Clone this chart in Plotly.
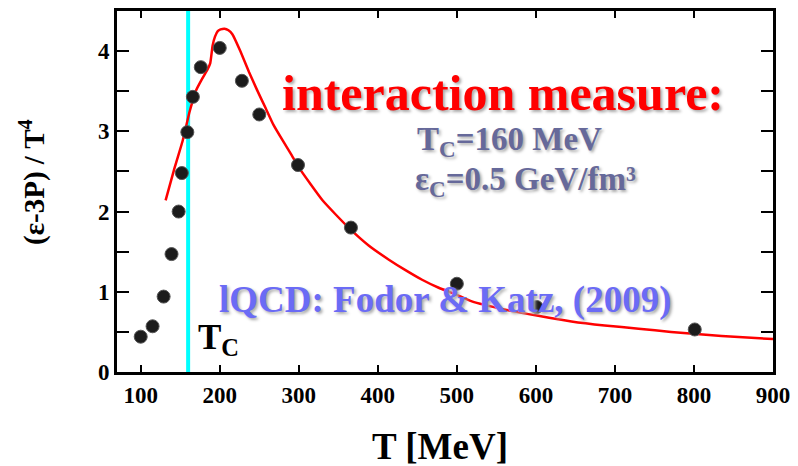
import plotly.graph_objects as go

# Lattice QCD data points (black spheres)
T_data = [100, 115, 129, 139, 148, 152, 159, 166, 176, 200, 228, 250, 299, 366, 500, 601, 801]
I_data = [0.44, 0.57, 0.94, 1.47, 2.00, 2.48, 2.99, 3.43, 3.80, 4.04, 3.63, 3.21, 2.58, 1.80, 1.10, 0.81, 0.53]

# Red curve
T_curve = [131.5, 143, 153, 162, 170, 178, 185, 188, 191, 194, 197.5, 201, 206, 211, 216, 226, 237, 247, 258, 268,
           280, 290, 300, 315, 330, 347, 364, 388, 414, 435, 456, 477, 498, 519, 560, 603, 645, 687, 730, 771, 835, 900]
I_curve = [2.14, 2.55, 2.88, 3.25, 3.51, 3.66, 3.78, 3.85, 4.07, 4.18, 4.25, 4.27, 4.28, 4.26, 4.21, 4.00, 3.74, 3.52, 3.29, 3.08,
           2.88, 2.72, 2.55, 2.34, 2.14, 1.96, 1.79, 1.58, 1.40, 1.27, 1.15, 1.05, 0.97, 0.88, 0.78, 0.70, 0.63, 0.58, 0.54, 0.50, 0.45, 0.41]

T_c = 160
x_ticks = [100, 200, 300, 400, 500, 600, 700, 800, 900]
y_ticks = [0, 1, 2, 3, 4]

SERIF = "Liberation Serif"

fig = go.Figure()

fig.add_trace(go.Scatter(
    x=[T_c, T_c], y=[0, 4.5], mode="lines",
    line=dict(color="#00ffff", width=4), showlegend=False, hoverinfo="skip"))

fig.add_trace(go.Scatter(
    x=T_curve, y=I_curve, mode="lines",
    line=dict(color="#ff0000", width=2.5, shape="spline", smoothing=0.4),
    showlegend=False))

fig.add_trace(go.Scatter(
    x=T_data, y=I_data, mode="markers",
    marker=dict(color="#1c1c1c", size=13, line=dict(color="#555555", width=1)),
    showlegend=False))

axis_common = dict(
    showline=True, linecolor="black", linewidth=3, mirror="ticks",
    ticks="inside", tickcolor="black", tickwidth=2,
    showgrid=False, zeroline=False,
    tickfont=dict(family=SERIF, size=23, color="black", weight="bold"),
)

fig.update_xaxes(range=[70, 900], tickvals=x_ticks, ticklen=7, **axis_common)
fig.update_yaxes(range=[0, 4.5], tickvals=y_ticks, ticklen=12,
                 minor=dict(dtick=0.5, ticks="inside", ticklen=12, tickwidth=2, tickcolor="black"),
                 **axis_common)

shadow = "2px 2px 3px #aaaaaa"
ann = [
    dict(x=558, y=3.48, text="interaction measure:", font=dict(family=SERIF, size=50, color="#ff0000", weight="bold", shadow=shadow)),
    dict(x=567, y=2.87, text="T<sub>C</sub>=160 MeV", font=dict(family=SERIF, size=33, color="#66699a", weight="bold", shadow=shadow)),
    dict(x=587, y=2.38, text="ε<sub>C</sub>=0.5 GeV/fm³", font=dict(family=SERIF, size=33, color="#66699a", weight="bold", shadow=shadow)),
    dict(x=485, y=0.90, text="lQCD: Fodor &amp; Katz, (2009)", font=dict(family=SERIF, size=37, color="#6b6bf5", weight="bold", shadow=shadow)),
    dict(x=198, y=0.40, text="T<sub>C</sub>", font=dict(family=SERIF, size=35, color="black", weight="bold")),
]
for a in ann:
    fig.add_annotation(xref="x", yref="y", showarrow=False, xanchor="center", yanchor="middle", **a)

# Axis titles as annotations (pixel placement)
fig.add_annotation(xref="paper", yref="paper", x=(441 - 117) / (776 - 117), y=-(447 - 372) / 364,
                   text="T [MeV]", showarrow=False, xanchor="center", yanchor="middle",
                   font=dict(family=SERIF, size=37, color="black", weight="bold"))
fig.add_annotation(xref="paper", yref="paper", x=-(117 - 32) / (776 - 117), y=(372 - 180) / 364,
                   text="(ε-3P) / T<sup>4</sup>", showarrow=False, textangle=-90,
                   xanchor="center", yanchor="middle",
                   font=dict(family=SERIF, size=29, color="black", weight="bold"))

fig.update_layout(
    width=798, height=466,
    margin=dict(l=117, r=22, t=8, b=94),
    paper_bgcolor="white", plot_bgcolor="white",
    showlegend=False,
)

fig.write_html("out.html")
